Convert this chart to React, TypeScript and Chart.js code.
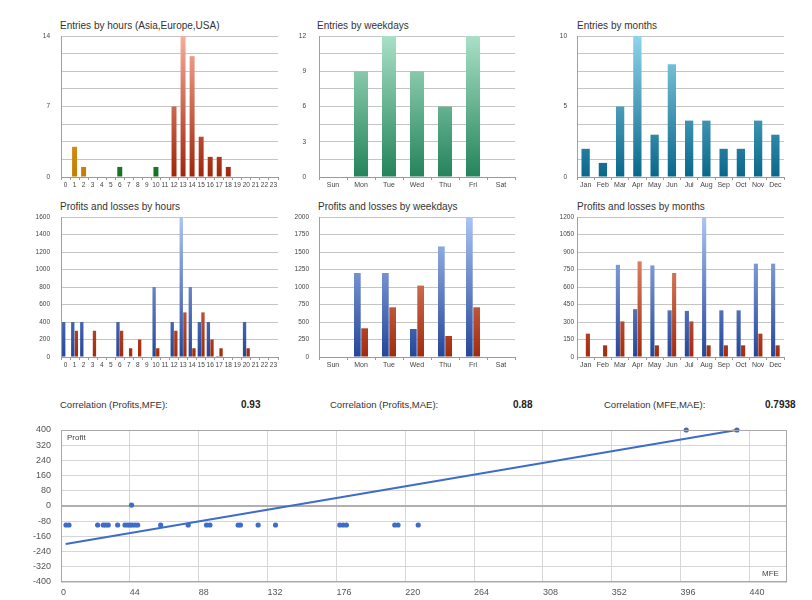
import React, { useEffect, useRef } from 'react';
import { Chart, registerables } from 'chart.js';

Chart.register(...registerables);

const FONT = '"Liberation Sans", Arial, sans-serif';

// ---------- data ----------
const HOURS = ['0','1','2','3','4','5','6','7','8','9','10','11','12','13','14','15','16','17','18','19','20','21','22','23'];
const HOUR_SESSION = ['Asia','Asia','Asia','Asia','Asia','Asia','Europe','Europe','Europe','Europe','Europe','Europe','USA','USA','USA','USA','USA','USA','USA','USA','USA','USA','USA','USA'];
const ENTRIES_BY_HOUR = [0,3,1,0,0,0,1,0,0,0,1,0,7,14,12,4,2,2,1,0,0,0,0,0];

const WEEKDAYS = ['Sun','Mon','Tue','Wed','Thu','Fri','Sat'];
const ENTRIES_BY_WEEKDAY = [0,9,12,9,6,12,0];

const MONTHS = ['Jan','Feb','Mar','Apr','May','Jun','Jul','Aug','Sep','Oct','Nov','Dec'];
const ENTRIES_BY_MONTH = [2,1,5,10,3,8,4,4,2,2,4,3];

const PROFITS_BY_HOUR = [400,400,400,0,0,0,400,0,0,0,800,0,400,1600,800,400,400,10,0,0,400,0,0,0];
const LOSSES_BY_HOUR  = [0,300,0,300,0,0,300,100,200,0,100,0,300,510,100,510,200,100,0,0,100,0,0,0];

const PROFITS_BY_WEEKDAY = [0,1200,1200,400,1580,2000,0];
const LOSSES_BY_WEEKDAY  = [0,410,710,1020,300,710,0];

const PROFITS_BY_MONTH = [0,0,790,410,785,400,395,1200,400,400,800,800];
const LOSSES_BY_MONTH  = [200,100,305,820,100,720,305,100,100,100,200,100];

const MFE    = [3.2,5.1,23.4,27.0,28.5,30.2,36.2,40.9,42.6,44.1,45.5,47.3,49.0,45.1,63.7,81.3,93.0,95.2,113.2,114.7,126.0,137.1,178.2,180.3,182.4,213.3,215.4,228.3,399.6,432];
const PROFIT = [-100,-100,-100,-100,-100,-100,-100,-100,-100,-100,-100,-100,-100,5,-100,-100,-100,-100,-100,-100,-100,-100,-100,-100,-100,-100,-100,-100,400,400];
const TREND_X = [3, 432];
const TREND_Y = [-200, 400];

const CORRELATIONS = [
  { label: 'Correlation (Profits,MFE):', value: '0.93' },
  { label: 'Correlation (Profits,MAE):', value: '0.88' },
  { label: 'Correlation (MFE,MAE):', value: '0.7938' },
];

// ---------- styles ----------
const SESSION_COLORS: Record<string, [string, string]> = {
  Asia: ['#c47c00', '#f6c870'],
  Europe: ['#137020', '#7fd08a'],
  USA: ['#a02408', '#f7ad9c'],
};
const WEEK_GREEN: [string, string] = ['#23835a', '#a9e0c7'];
const MONTH_TEAL: [string, string] = ['#08678a', '#8fd4ea'];
const BLUE: [string, string] = ['#24469a', '#aac4f4'];
const RED: [string, string] = ['#a32a0c', '#f1a58a'];

function grad(c: [string, string]) {
  return (ctx: any) => {
    const chart = ctx.chart;
    const a = chart.chartArea;
    if (!a) return c[0];
    const g = chart.ctx.createLinearGradient(0, a.bottom, 0, a.top);
    g.addColorStop(0, c[0]);
    g.addColorStop(1, c[1]);
    return g;
  };
}

type Area = { l: number; t: number; r: number; b: number };

function ChartBox({ area, yW, xH, padT = 8, padR = 6, build }: { area: Area; yW: number; xH: number; padT?: number; padR?: number; build: () => any }) {
  const ref = useRef<HTMLCanvasElement>(null);
  const w = area.r - area.l + yW + padR;
  const h = area.b - area.t + padT + xH;
  useEffect(() => {
    const cfg = build();
    cfg.options.layout = { padding: { top: padT, right: padR, left: 0, bottom: 0 } };
    cfg.options.scales.y.afterFit = (s: any) => { s.width = yW; };
    cfg.options.scales.x.afterFit = (s: any) => { s.height = xH; };
    const chart = new Chart(ref.current as HTMLCanvasElement, cfg);
    return () => chart.destroy();
  }, []);
  return (
    <canvas
      ref={ref}
      width={w}
      height={h}
      style={{ position: 'absolute', left: area.l - yW, top: area.t - padT, width: w, height: h, display: 'block' }}
    />
  );
}

function barOptions(max: number, step: number, labelEvery: number, yPad: number, xFont: number) {
  return {
    responsive: false,
    animation: false,
    plugins: { legend: { display: false }, tooltip: { enabled: false } },
    scales: {
      x: {
        grid: { offset: true, drawOnChartArea: false, drawTicks: true, tickLength: 3, color: '#9a9a9a' },
        border: { display: true, color: '#9a9a9a' },
        ticks: { autoSkip: false, maxRotation: 0, padding: 1, color: '#444', font: { family: FONT, size: xFont } },
      },
      y: {
        min: 0,
        max,
        grid: { color: '#c4c4c4', drawTicks: false },
        border: { display: true, color: '#a0a0a0' },
        ticks: {
          stepSize: step,
          padding: yPad,
          color: '#444',
          font: { family: FONT, size: 6.5 },
          callback: (v: number) => (Math.abs(v / labelEvery - Math.round(v / labelEvery)) < 1e-6 ? String(v) : ''),
        },
      },
    },
  };
}

function entriesHours() {
  return {
    type: 'bar',
    data: {
      labels: HOURS,
      datasets: [{
        data: ENTRIES_BY_HOUR,
        backgroundColor: (ctx: any) => grad(SESSION_COLORS[HOUR_SESSION[ctx.dataIndex]])(ctx),
        barPercentage: 0.55,
        categoryPercentage: 1,
      }],
    },
    options: barOptions(14, 1.75, 7, 11, 6.5),
  };
}

function entriesWeek() {
  return {
    type: 'bar',
    data: {
      labels: WEEKDAYS,
      datasets: [{ data: ENTRIES_BY_WEEKDAY, backgroundColor: grad(WEEK_GREEN), barPercentage: 0.5, categoryPercentage: 1 }],
    },
    options: barOptions(12, 1.5, 3, 13, 7),
  };
}

function entriesMonth() {
  return {
    type: 'bar',
    data: {
      labels: MONTHS,
      datasets: [{ data: ENTRIES_BY_MONTH, backgroundColor: grad(MONTH_TEAL), barPercentage: 0.48, categoryPercentage: 1 }],
    },
    options: barOptions(10, 1.25, 5, 10, 7),
  };
}

function plChart(labels: string[], profits: number[], losses: number[], max: number, step: number, cat: number, yPad: number, xFont: number) {
  return {
    type: 'bar',
    data: {
      labels,
      datasets: [
        { data: profits, backgroundColor: grad(BLUE), barPercentage: 0.92, categoryPercentage: cat },
        { data: losses, backgroundColor: grad(RED), barPercentage: 0.92, categoryPercentage: cat },
      ],
    },
    options: barOptions(max, step, step, yPad, xFont),
  };
}

const borderPlugin = {
  id: 'areaBorder',
  afterDraw(chart: any) {
    const { ctx, chartArea: a } = chart;
    ctx.save();
    ctx.strokeStyle = '#a8a8a8';
    ctx.lineWidth = 1;
    ctx.strokeRect(a.left + 0.5, a.top + 0.5, a.right - a.left - 1, a.bottom - a.top - 1);
    ctx.restore();
  },
};

function scatterChart() {
  return {
    type: 'scatter',
    data: {
      datasets: [
        {
          data: MFE.map((x, i) => ({ x, y: PROFIT[i] })),
          backgroundColor: '#3d6cc9',
          borderColor: '#3d6cc9',
          pointRadius: 2.6,
          borderWidth: 0,
          clip: false,
        },
        {
          data: TREND_X.map((x, i) => ({ x, y: TREND_Y[i] })),
          showLine: true,
          borderColor: '#3d6cc9',
          borderWidth: 2,
          pointRadius: 0,
          clip: false,
        },
      ],
    },
    options: {
      responsive: false,
      animation: false,
      plugins: { legend: { display: false }, tooltip: { enabled: false } },
      scales: {
        x: {
          type: 'linear',
          min: 0,
          max: 464,
          grid: { color: '#d6d6d6', drawTicks: false },
          border: { display: false },
          ticks: { stepSize: 44, includeBounds: false, align: 'start', padding: 5, color: '#555', font: { family: FONT, size: 9 } },
        },
        y: {
          min: -400,
          max: 400,
          grid: {
            drawTicks: false,
            color: (c: any) => (c.tick && c.tick.value === 0 ? '#b0b0b0' : '#d6d6d6'),
            lineWidth: (c: any) => (c.tick && c.tick.value === 0 ? 2 : 1),
          },
          border: { display: false },
          ticks: { stepSize: 80, padding: 10, color: '#555', font: { family: FONT, size: 9 } },
        },
      },
    },
    plugins: [borderPlugin],
  };
}

function Text({ x, y, size, children, bold, color = '#333' }: any) {
  return (
    <div style={{ position: 'absolute', left: x, top: y - 7, lineHeight: '14px', height: 14, fontSize: size, fontWeight: bold ? 'bold' : 'normal', color, whiteSpace: 'nowrap', fontFamily: FONT }}>
      {children}
    </div>
  );
}

export default function App() {
  const corrX = [60, 330, 604];
  const valX = [241, 513, 765];
  return (
    <div style={{ position: 'absolute', left: 0, top: 0, width: 812, height: 600, background: '#fff', overflow: 'hidden', fontFamily: FONT }}>
      <Text x={60} y={26} size={10}>Entries by hours (Asia,Europe,USA)</Text>
      <Text x={317} y={26} size={10}>Entries by weekdays</Text>
      <Text x={577} y={26} size={10}>Entries by months</Text>
      <Text x={60} y={207} size={10}>Profits and losses by hours</Text>
      <Text x={318} y={207} size={10}>Profits and losses by weekdays</Text>
      <Text x={577} y={207} size={10}>Profits and losses by months</Text>

      <ChartBox area={{ l: 61, t: 36, r: 278, b: 177 }} yW={40} xH={18} padT={17} build={entriesHours} />
      <ChartBox area={{ l: 319, t: 36, r: 515, b: 177 }} yW={30} xH={18} padT={19} build={entriesWeek} />
      <ChartBox area={{ l: 577, t: 36, r: 784, b: 177 }} yW={30} xH={18} padT={16} build={entriesMonth} />
      <ChartBox area={{ l: 61, t: 217, r: 278, b: 357 }} yW={40} xH={18} padT={17} build={() => plChart(HOURS, PROFITS_BY_HOUR, LOSSES_BY_HOUR, 1600, 200, 0.8, 11, 6.5)} />
      <ChartBox area={{ l: 319, t: 217, r: 515, b: 357 }} yW={30} xH={18} padT={16} build={() => plChart(WEEKDAYS, PROFITS_BY_WEEKDAY, LOSSES_BY_WEEKDAY, 2000, 250, 0.52, 10, 7)} />
      <ChartBox area={{ l: 577, t: 217, r: 784, b: 357 }} yW={30} xH={18} padT={9} build={() => plChart(MONTHS, PROFITS_BY_MONTH, LOSSES_BY_MONTH, 1200, 150, 0.52, 3, 7)} />

      {CORRELATIONS.map((c, i) => (
        <React.Fragment key={c.label}>
          <Text x={corrX[i]} y={405} size={9.5}>{c.label}</Text>
          <Text x={valX[i]} y={405} size={10} bold color="#222">{c.value}</Text>
        </React.Fragment>
      ))}

      <ChartBox area={{ l: 61, t: 430, r: 787, b: 582 }} yW={40} xH={18} padT={18} padR={10} build={scatterChart} />
      <Text x={67} y={438} size={8} color="#444">Profit</Text>
      <Text x={762} y={574} size={8} color="#444">MFE</Text>
    </div>
  );
}
